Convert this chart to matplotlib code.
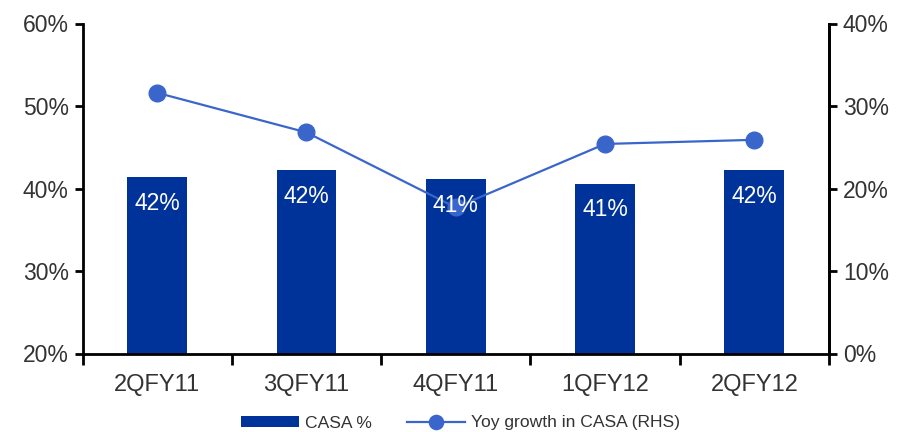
import matplotlib
matplotlib.use("Agg")
import matplotlib.pyplot as plt
from matplotlib.ticker import FuncFormatter, FixedLocator
import numpy as np

categories = ["2QFY11", "3QFY11", "4QFY11", "1QFY12", "2QFY12"]
casa_pct = [41.4, 42.2, 41.1, 40.6, 42.2]
bar_labels = ["42%", "42%", "41%", "41%", "42%"]
yoy_growth = [31.6, 26.8, 17.7, 25.4, 25.9]

plt.rcParams['font.family'] = ['Liberation Sans', 'DejaVu Sans']

fig = plt.figure(figsize=(9.01, 4.32), dpi=100)
ax = fig.add_axes([82.5/901, 1 - 353.5/432, (829 - 82.5)/901, (353.5 - 23.5)/432])
x = np.arange(len(categories))

bar_color = "#003399"
line_color = "#3A66CC"
text_color = "#333333"

ax.bar(x, casa_pct, width=0.4, color=bar_color, zorder=2, label="CASA %")
ax.set_ylim(20, 60)
ax.set_xlim(-0.5, len(categories) - 0.5)
ax.set_yticks([20, 30, 40, 50, 60])
ax.yaxis.set_major_formatter(FuncFormatter(lambda v, p: f"{v:.0f}%"))
ax.set_xticks(x)
ax.set_xticklabels(categories)
ax.tick_params(axis='x', length=0, pad=14.5, labelsize=17, labelcolor=text_color)
ax.xaxis.set_minor_locator(FixedLocator(np.arange(-0.5, len(categories), 1.0)))
ax.tick_params(axis='x', which='minor', length=8, width=2, direction='out')
ax.tick_params(axis='y', length=6, width=2, direction='out', labelsize=16.5, labelcolor=text_color, pad=4)
ax.spines['top'].set_visible(False)
for s in ['left', 'bottom', 'right']:
    ax.spines[s].set_linewidth(2)

ax2 = ax.twinx()
ax2.set_ylim(0, 40)
ax2.set_yticks([0, 10, 20, 30, 40])
ax2.yaxis.set_major_formatter(FuncFormatter(lambda v, p: f"{v:.0f}%"))
ax2.tick_params(axis='y', length=6, width=2, direction='out', labelsize=16.5, labelcolor=text_color, pad=4)
for s in ['top', 'left', 'bottom']:
    ax2.spines[s].set_visible(False)
ax2.spines['right'].set_linewidth(2)
ax2.plot(x, yoy_growth, color=line_color, linewidth=1.6, marker='o', markersize=12,
         label="Yoy growth in CASA (RHS)", zorder=3)

for xi, v, lab in zip(x, casa_pct, bar_labels):
    ax2.annotate(lab, xy=(xi, v), xycoords=ax.transData, xytext=(0, -19),
                 textcoords='offset points', ha='center', va='center',
                 color='white', fontsize=16.5, zorder=5)

h1, l1 = ax.get_legend_handles_labels()
h2, l2 = ax2.get_legend_handles_labels()
leg = fig.legend(h1 + h2, l1 + l2, loc='center', bbox_to_anchor=(0.5 + 10/901, 1 - 423/432),
                 ncol=2, frameon=False, fontsize=12.6, handlelength=3.3, handleheight=0.6,
                 columnspacing=2.0, handletextpad=0.35, markerscale=0.85)
for t in leg.get_texts():
    t.set_color(text_color)

fig.savefig("out.png", dpi=100)
